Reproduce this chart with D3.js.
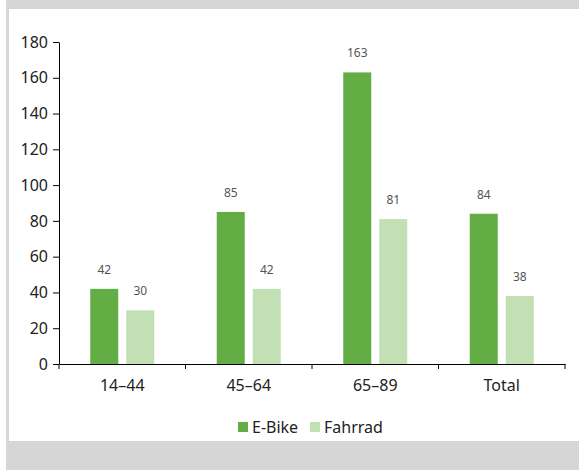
<!DOCTYPE html>
<html><head><meta charset="utf-8">
<script src="https://cdn.jsdelivr.net/npm/d3@7"></script>
<style>body{margin:0;background:#fff}svg{display:block}</style>
</head><body>
<script>
const categories = ["14–44", "45–64", "65–89", "Total"];
const series = ["E-Bike", "Fahrrad"];
const eBike = [42, 85, 163, 84];
const fahrrad = [30, 42, 81, 38];
const yTicks = [0, 20, 40, 60, 80, 100, 120, 140, 160, 180];
const colors = ["#62ad44", "#c2e0b4"];

const W = 579, H = 470;
const font = "'Noto Sans', sans-serif";
const svg = d3.select("body").append("svg").attr("width", W).attr("height", H);
svg.append("rect").attr("x", 6).attr("y", 0).attr("width", W - 6).attr("height", H).attr("fill", "#d6d6d6");
svg.append("rect").attr("x", 9).attr("y", 9).attr("width", W - 9).attr("height", 432).attr("fill", "#fff");

const x = d3.scaleBand().domain(categories).range([59, 565]).padding(0);
const y = d3.scaleLinear().domain([0, 180]).range([364, 42]);
const barW = 28, gap = 8;

// y axis
const yAxis = svg.append("g").attr("transform", "translate(59,0)")
  .call(d3.axisLeft(y).tickValues(yTicks).tickSize(6).tickSizeOuter(0).tickPadding(5));
yAxis.select(".domain").attr("stroke", "#000");
yAxis.selectAll(".tick line").attr("stroke", "#000");
yAxis.selectAll("text").attr("font-family", font).attr("font-size", 16).attr("fill", "#222");

// x axis
const xAxis = svg.append("g").attr("transform", "translate(0,364)")
  .call(d3.axisBottom(x).tickSize(0).tickPadding(16).tickSizeOuter(0));
xAxis.select(".domain").attr("stroke", "#000");
xAxis.selectAll("text").attr("font-family", font).attr("font-size", 16).attr("fill", "#222");
const bounds = categories.map(c => x(c)).concat([x.range()[1]]);
svg.append("g").selectAll("line").data(bounds).join("line")
  .attr("x1", d => d).attr("x2", d => d).attr("y1", 364).attr("y2", 369).attr("stroke", "#000");

const data = categories.map((c, i) => ({ c, vals: [eBike[i], fahrrad[i]] }));
const g = svg.append("g");
data.forEach(d => {
  const cx = x(d.c) + x.bandwidth() / 2;
  d.vals.forEach((v, j) => {
    const bx = cx + (j === 0 ? -(barW + gap / 2) : gap / 2);
    g.append("rect").attr("x", bx).attr("y", y(v)).attr("width", barW).attr("height", y(0) - y(v)).attr("fill", colors[j]);
    g.append("text").attr("x", bx + barW / 2).attr("y", y(v) - 15).attr("text-anchor", "middle")
      .attr("font-family", font).attr("font-size", 12).attr("fill", "#555").text(v);
  });
});

// legend
const leg = svg.append("g");
const legItems = [{ s: series[0], x: 238 }, { s: series[1], x: 310 }];
legItems.forEach((d, i) => {
  leg.append("rect").attr("x", d.x).attr("y", 422).attr("width", 10).attr("height", 10).attr("fill", colors[i]);
  leg.append("text").attr("x", d.x + 14).attr("y", 433).attr("font-family", font).attr("font-size", 16).attr("fill", "#222").text(d.s);
});
</script>
</body></html>
